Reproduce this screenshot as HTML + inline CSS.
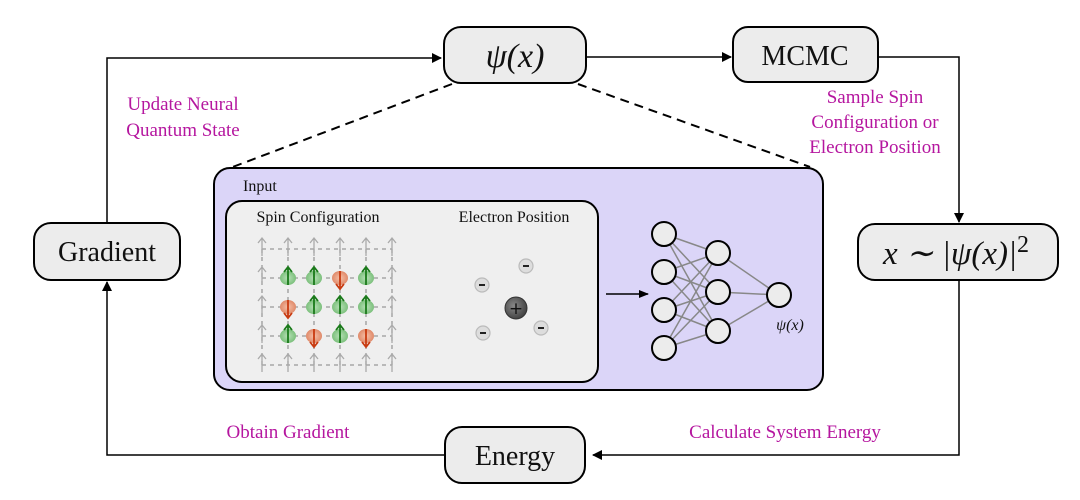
<!DOCTYPE html>
<html><head><meta charset="utf-8"><style>
html,body{margin:0;padding:0;background:#fff;}
svg{display:block;}
.m{font-family:"Liberation Serif",serif;fill:#b5169f;font-size:19px;}
.t{font-family:"Liberation Serif",serif;fill:#111;}
</style></head><body>
<svg width="1080" height="500" viewBox="0 0 1080 500" xmlns="http://www.w3.org/2000/svg">
<defs>
<marker id="ah" markerWidth="10" markerHeight="10" refX="9" refY="5" orient="auto" markerUnits="userSpaceOnUse">
<path d="M0,0 L10,5 L0,10 z" fill="#000"/></marker>
<marker id="ah2" markerWidth="10" markerHeight="10" refX="9" refY="5" orient="auto" markerUnits="userSpaceOnUse">
<path d="M0,1 L10,5 L0,9 z" fill="#000"/></marker>
<radialGradient id="gg" cx="0.5" cy="0.5" r="0.5"><stop offset="0" stop-color="#b8e0b8"/><stop offset="1" stop-color="#7cc07c"/></radialGradient>
<radialGradient id="rg" cx="0.5" cy="0.5" r="0.5"><stop offset="0" stop-color="#f5c0a8"/><stop offset="1" stop-color="#e08a6a"/></radialGradient>
<radialGradient id="pg" cx="0.4" cy="0.4" r="0.6"><stop offset="0" stop-color="#888"/><stop offset="1" stop-color="#444"/></radialGradient>
</defs>

<polyline points="107,222 107,58 441,58" fill="none" stroke="#000" stroke-width="1.5" marker-end="url(#ah)"/>
<line x1="584" y1="57" x2="731" y2="57" stroke="#000" stroke-width="1.5" marker-end="url(#ah)"/>
<polyline points="878,57 959,57 959,222" fill="none" stroke="#000" stroke-width="1.5" marker-end="url(#ah)"/>
<polyline points="959,280 959,455 593,455" fill="none" stroke="#000" stroke-width="1.5" marker-end="url(#ah)"/>
<polyline points="445,455 107,455 107,282" fill="none" stroke="#000" stroke-width="1.5" marker-end="url(#ah)"/>
<line x1="452" y1="84" x2="230" y2="168" stroke="#000" stroke-width="2" stroke-dasharray="9,6"/>
<line x1="578" y1="84" x2="810" y2="167" stroke="#000" stroke-width="2" stroke-dasharray="9,6"/>

<rect x="444" y="27" width="142" height="56" rx="17" fill="#ececec" stroke="#000" stroke-width="2"/>
<text x="515" y="67" text-anchor="middle" class="t" font-size="34" font-style="italic">ψ(x)</text>
<rect x="733" y="27" width="145" height="55" rx="15" fill="#ececec" stroke="#000" stroke-width="2"/>
<text x="805" y="65" text-anchor="middle" class="t" font-size="28">MCMC</text>
<rect x="858" y="224" width="200" height="56" rx="17" fill="#ececec" stroke="#000" stroke-width="2"/>
<text x="956" y="264" text-anchor="middle" class="t" font-size="33" font-style="italic">x ∼ |ψ(x)|<tspan font-size="24" font-style="normal" dy="-12">2</tspan></text>
<rect x="34" y="223" width="146" height="57" rx="17" fill="#ececec" stroke="#000" stroke-width="2"/>
<text x="107" y="261" text-anchor="middle" class="t" font-size="28">Gradient</text>
<rect x="445" y="427" width="140" height="56" rx="17" fill="#ececec" stroke="#000" stroke-width="2"/>
<text x="515" y="465" text-anchor="middle" class="t" font-size="28">Energy</text>

<text x="183" y="110" text-anchor="middle" class="m">Update Neural</text>
<text x="183" y="136" text-anchor="middle" class="m">Quantum State</text>
<text x="875" y="103" text-anchor="middle" class="m">Sample Spin</text>
<text x="875" y="128" text-anchor="middle" class="m">Configuration or</text>
<text x="875" y="153" text-anchor="middle" class="m">Electron Position</text>
<text x="288" y="438" text-anchor="middle" class="m">Obtain Gradient</text>
<text x="785" y="438" text-anchor="middle" class="m">Calculate System Energy</text>

<rect x="214" y="168" width="609" height="222" rx="16" fill="#dbd5f8" stroke="#000" stroke-width="2"/>
<text x="243" y="191" class="t" font-size="16">Input</text>
<rect x="226" y="201" width="372" height="181" rx="16" fill="#efefef" stroke="#000" stroke-width="2"/>
<text x="318" y="222" text-anchor="middle" class="t" font-size="16">Spin Configuration</text>
<text x="514" y="222" text-anchor="middle" class="t" font-size="16">Electron Position</text>

<g stroke="#999" stroke-width="1.3" stroke-dasharray="4,4" fill="none">
<line x1="262" y1="249" x2="392" y2="249"/><line x1="262" y1="278" x2="392" y2="278"/>
<line x1="262" y1="307" x2="392" y2="307"/><line x1="262" y1="336" x2="392" y2="336"/>
<line x1="262" y1="365" x2="392" y2="365"/>
<line x1="262" y1="249" x2="262" y2="365"/><line x1="288" y1="249" x2="288" y2="365"/>
<line x1="314" y1="249" x2="314" y2="365"/><line x1="340" y1="249" x2="340" y2="365"/>
<line x1="366" y1="249" x2="366" y2="365"/><line x1="392" y1="249" x2="392" y2="365"/>
</g>
<g stroke="#aaa" stroke-width="1.3" fill="none">
<path d="M262,256 v-18 m-4,5 l4,-5 l4,5 M288,256 v-18 m-4,5 l4,-5 l4,5 M314,256 v-18 m-4,5 l4,-5 l4,5 M340,256 v-18 m-4,5 l4,-5 l4,5 M366,256 v-18 m-4,5 l4,-5 l4,5 M392,256 v-18 m-4,5 l4,-5 l4,5"/>
<path d="M262,372 v-18 m-4,5 l4,-5 l4,5 M288,372 v-18 m-4,5 l4,-5 l4,5 M314,372 v-18 m-4,5 l4,-5 l4,5 M340,372 v-18 m-4,5 l4,-5 l4,5 M366,372 v-18 m-4,5 l4,-5 l4,5 M392,372 v-18 m-4,5 l4,-5 l4,5"/>
<path d="M262,285 v-18 m-4,5 l4,-5 l4,5 M262,314 v-18 m-4,5 l4,-5 l4,5 M262,343 v-18 m-4,5 l4,-5 l4,5"/>
<path d="M392,285 v-18 m-4,5 l4,-5 l4,5 M392,314 v-18 m-4,5 l4,-5 l4,5 M392,343 v-18 m-4,5 l4,-5 l4,5"/>
</g>
<g>
<ellipse cx="288" cy="278" rx="8" ry="7" fill="url(#gg)"/><ellipse cx="314" cy="278" rx="8" ry="7" fill="url(#gg)"/>
<ellipse cx="340" cy="278" rx="8" ry="7" fill="url(#rg)"/><ellipse cx="366" cy="278" rx="8" ry="7" fill="url(#gg)"/>
<ellipse cx="288" cy="307" rx="8" ry="7" fill="url(#rg)"/><ellipse cx="314" cy="307" rx="8" ry="7" fill="url(#gg)"/>
<ellipse cx="340" cy="307" rx="8" ry="7" fill="url(#gg)"/><ellipse cx="366" cy="307" rx="8" ry="7" fill="url(#gg)"/>
<ellipse cx="288" cy="336" rx="8" ry="7" fill="url(#gg)"/><ellipse cx="314" cy="336" rx="8" ry="7" fill="url(#rg)"/>
<ellipse cx="340" cy="336" rx="8" ry="7" fill="url(#gg)"/><ellipse cx="366" cy="336" rx="8" ry="7" fill="url(#rg)"/>
</g>
<g stroke-width="1.8" fill="none">
<path stroke="#1a7a1a" d="M288,285 v-18 m-4,5 l4,-5 l4,5 M314,285 v-18 m-4,5 l4,-5 l4,5 M366,285 v-18 m-4,5 l4,-5 l4,5 M314,314 v-18 m-4,5 l4,-5 l4,5 M340,314 v-18 m-4,5 l4,-5 l4,5 M366,314 v-18 m-4,5 l4,-5 l4,5 M288,343 v-18 m-4,5 l4,-5 l4,5 M340,343 v-18 m-4,5 l4,-5 l4,5"/>
<path stroke="#c83a10" d="M340,271 v18 m-4,-5 l4,5 l4,-5 M288,300 v18 m-4,-5 l4,5 l4,-5 M314,329 v18 m-4,-5 l4,5 l4,-5 M366,329 v18 m-4,-5 l4,5 l4,-5"/>
</g>

<circle cx="516" cy="308" r="11" fill="url(#pg)" stroke="#333"/>
<text x="516" y="314" text-anchor="middle" font-family="DejaVu Sans" font-size="17" fill="#111">+</text>
<g fill="#ddd" stroke="#bbb" stroke-width="1.2">
<circle cx="482" cy="285" r="7"/><circle cx="526" cy="266" r="7"/><circle cx="483" cy="333" r="7"/><circle cx="541" cy="328" r="7"/>
</g>
<g stroke="#222" stroke-width="2">
<line x1="479" y1="285" x2="485" y2="285"/><line x1="523" y1="266" x2="529" y2="266"/>
<line x1="480" y1="333" x2="486" y2="333"/><line x1="538" y1="328" x2="544" y2="328"/>
</g>

<line x1="606" y1="294" x2="648" y2="294" stroke="#000" stroke-width="1.5" marker-end="url(#ah2)"/>

<g stroke="#888" stroke-width="1.5">
<line x1="664" y1="234" x2="718" y2="253"/><line x1="664" y1="234" x2="718" y2="292"/><line x1="664" y1="234" x2="718" y2="331"/>
<line x1="664" y1="272" x2="718" y2="253"/><line x1="664" y1="272" x2="718" y2="292"/><line x1="664" y1="272" x2="718" y2="331"/>
<line x1="664" y1="310" x2="718" y2="253"/><line x1="664" y1="310" x2="718" y2="292"/><line x1="664" y1="310" x2="718" y2="331"/>
<line x1="664" y1="348" x2="718" y2="253"/><line x1="664" y1="348" x2="718" y2="292"/><line x1="664" y1="348" x2="718" y2="331"/>
<line x1="718" y1="253" x2="779" y2="295"/><line x1="718" y1="292" x2="779" y2="295"/><line x1="718" y1="331" x2="779" y2="295"/>
</g>
<g fill="#ececec" stroke="#000" stroke-width="2">
<circle cx="664" cy="234" r="12"/><circle cx="664" cy="272" r="12"/><circle cx="664" cy="310" r="12"/><circle cx="664" cy="348" r="12"/>
<circle cx="718" cy="253" r="12"/><circle cx="718" cy="292" r="12"/><circle cx="718" cy="331" r="12"/>
<circle cx="779" cy="295" r="12"/>
</g>
<text x="790" y="330" text-anchor="middle" class="t" font-size="16" font-style="italic" fill="#333">ψ(x)</text>
</svg>
</body></html>
